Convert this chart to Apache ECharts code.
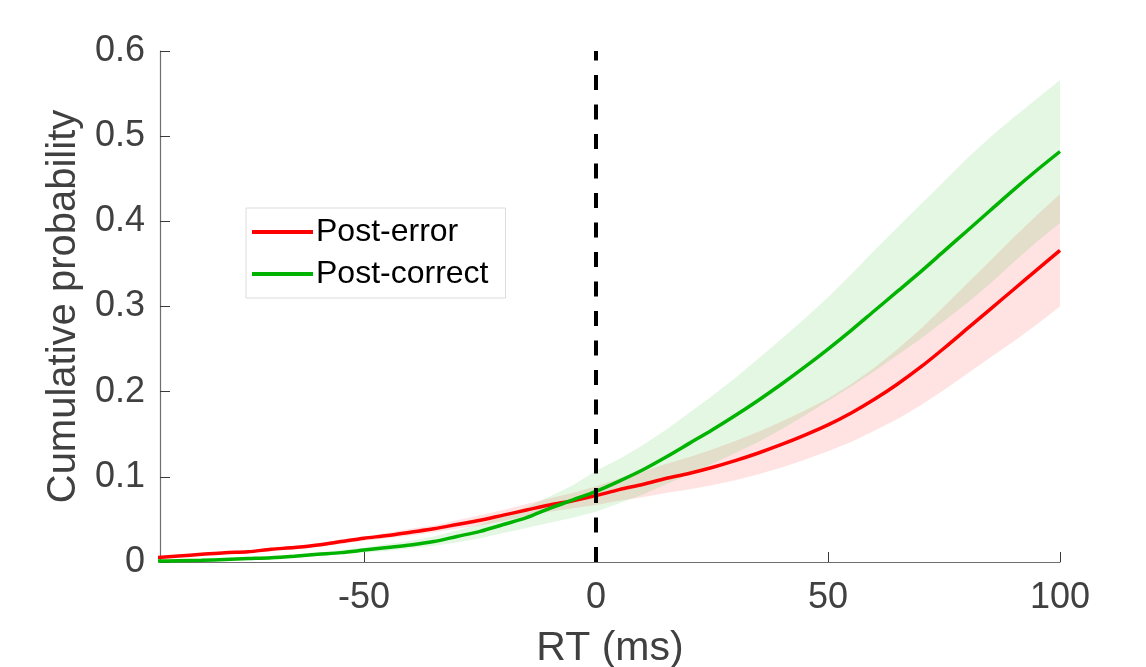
<!DOCTYPE html>
<html>
<head>
<meta charset="utf-8">
<title>Cumulative probability</title>
<script src="https://cdn.jsdelivr.net/npm/echarts@6/dist/echarts.min.js"></script>
<style>
  html, body { margin: 0; padding: 0; background: #fff; }
  #chart { width: 1146px; height: 667px; }
</style>
</head>
<body>
<div id="chart"></div>
<script>
// RT grid (ms)
var rt = [-95, -90, -85, -80, -75, -70, -65, -60, -55, -50, -45, -40, -35, -30, -25, -20, -15, -10, -5, 0,
  5, 10, 15, 20, 25, 30, 35, 40, 45, 50, 55, 60, 65, 70, 75, 80, 85, 90, 95, 100];

var postErrorMean = [0.005, 0.007, 0.009, 0.011, 0.012, 0.015, 0.017, 0.020, 0.024, 0.028, 0.031, 0.035, 0.039, 0.044, 0.049, 0.055, 0.061, 0.067, 0.072, 0.078,
  0.085, 0.091, 0.098, 0.104, 0.111, 0.119, 0.128, 0.138, 0.149, 0.161, 0.175, 0.191, 0.209, 0.229, 0.251, 0.274, 0.297, 0.320, 0.343, 0.366];
var postErrorUpper = [0.006, 0.008, 0.010, 0.012, 0.014, 0.017, 0.019, 0.022, 0.026, 0.030, 0.034, 0.039, 0.043, 0.049, 0.055, 0.061, 0.068, 0.075, 0.081, 0.089,
  0.098, 0.106, 0.115, 0.123, 0.132, 0.142, 0.153, 0.165, 0.178, 0.192, 0.209, 0.228, 0.250, 0.274, 0.300, 0.327, 0.354, 0.381, 0.407, 0.432];
var postErrorLower = [0.004, 0.006, 0.008, 0.010, 0.011, 0.013, 0.015, 0.018, 0.021, 0.025, 0.028, 0.031, 0.035, 0.039, 0.043, 0.048, 0.054, 0.059, 0.063, 0.067,
  0.072, 0.076, 0.081, 0.085, 0.090, 0.096, 0.103, 0.111, 0.120, 0.130, 0.141, 0.154, 0.168, 0.184, 0.202, 0.221, 0.240, 0.259, 0.279, 0.300];

var postCorrectMean = [0.001, 0.0015, 0.002, 0.003, 0.004, 0.005, 0.0068, 0.009, 0.011, 0.014, 0.017, 0.020, 0.024, 0.030, 0.036, 0.044, 0.052, 0.063, 0.073, 0.083,
  0.095, 0.108, 0.123, 0.139, 0.155, 0.172, 0.190, 0.209, 0.229, 0.250, 0.272, 0.295, 0.318, 0.341, 0.365, 0.389, 0.413, 0.437, 0.460, 0.482];
var postCorrectUpper = [0.002, 0.002, 0.003, 0.004, 0.005, 0.007, 0.009, 0.011, 0.014, 0.017, 0.021, 0.025, 0.030, 0.037, 0.044, 0.054, 0.064, 0.077, 0.090, 0.107,
  0.121, 0.137, 0.155, 0.175, 0.195, 0.216, 0.239, 0.262, 0.286, 0.311, 0.338, 0.366, 0.393, 0.420, 0.447, 0.474, 0.499, 0.522, 0.544, 0.566];
var postCorrectLower = [0.0005, 0.001, 0.0015, 0.002, 0.003, 0.004, 0.005, 0.007, 0.009, 0.011, 0.013, 0.016, 0.019, 0.023, 0.028, 0.034, 0.040, 0.046, 0.052, 0.059,
  0.069, 0.079, 0.091, 0.103, 0.115, 0.128, 0.141, 0.156, 0.172, 0.189, 0.206, 0.224, 0.243, 0.262, 0.283, 0.304, 0.327, 0.352, 0.376, 0.398];

var xTicks = [-50, 0, 50, 100];
var seriesNames = ['Post-error', 'Post-correct'];

var RED = '#ff0000';
var GREEN = '#00b300';
var FONT = '"Liberation Sans", Arial, Helvetica, sans-serif';

function pairs(ys) {
  return rt.map(function(x, i) { return [x, ys[i]]; });
}

// shaded band: one polygon, upper edge forward then lower edge back
function band(upper, lower, color) {
  return {
    type: 'custom', silent: true, z: 1, clip: true,
    data: rt.map(function(x, i) { return [x, lower[i], upper[i]]; }),
    encode: { x: 0, y: [1, 2] },
    renderItem: function(params, api) {
      if (params.dataIndex !== 0) return;
      var pts = [];
      for (var i = 0; i < rt.length; i++) pts.push(api.coord([rt[i], upper[i]]));
      for (var j = rt.length - 1; j >= 0; j--) pts.push(api.coord([rt[j], lower[j]]));
      return {
        type: 'polygon',
        shape: { points: pts },
        style: { fill: color, opacity: 0.11 }
      };
    }
  };
}

var chart = echarts.init(document.getElementById('chart'), null, { renderer: 'canvas' });

var series = [
  band(postErrorUpper, postErrorLower, RED),
  band(postCorrectUpper, postCorrectLower, GREEN),
  {
    name: seriesNames[0], type: 'line', data: pairs(postErrorMean), symbol: 'none', smooth: 0.3,
    lineStyle: { color: RED, width: 3.5 }, itemStyle: { color: RED }, z: 3
  },
  {
    name: seriesNames[1], type: 'line', data: pairs(postCorrectMean), symbol: 'none', smooth: 0.3,
    lineStyle: { color: GREEN, width: 3.5 }, itemStyle: { color: GREEN }, z: 3,
    markLine: {
      silent: true, symbol: 'none', z: 5,
      label: { show: false },
      lineStyle: { color: '#000', width: 4, type: [15, 14.5] },
      data: [{ xAxis: 0 }]
    }
  }
];

chart.setOption({
  animation: false,
  backgroundColor: '#fff',
  // keep the plot box fixed, the x name is allowed to run off the bottom
  grid: { left: 160, right: 86, top: 51, bottom: 105, outerBoundsMode: 'none', containLabel: false },
  legend: {
    data: seriesNames,
    icon: 'rect',
    orient: 'vertical',
    left: 246, top: 208,
    padding: [8, 17, 8, 6],
    itemGap: 10,
    itemWidth: 61, itemHeight: 4,
    borderColor: '#dcdcdc', borderWidth: 1,
    backgroundColor: '#fff',
    textStyle: { fontFamily: FONT, fontSize: 32, color: '#000', padding: [0, 0, 0, -2] }
  },
  xAxis: {
    type: 'value', min: -94, max: 100,
    name: 'RT (ms)', nameLocation: 'middle', nameGap: 66,
    nameTextStyle: { fontFamily: FONT, fontSize: 41, color: '#404040' },
    axisLine: { onZero: false, lineStyle: { color: '#6e6e6e', width: 1.2 } },
    axisTick: { inside: true, length: 10, customValues: xTicks, lineStyle: { color: '#3a3a3a' } },
    axisLabel: { customValues: xTicks, fontFamily: FONT, fontSize: 36, color: '#404040', margin: 18 },
    splitLine: { show: false }
  },
  yAxis: {
    type: 'value', min: 0, max: 0.6, interval: 0.1,
    name: 'Cumulative probability', nameLocation: 'middle', nameGap: 71,
    nameTextStyle: { fontFamily: FONT, fontSize: 40, color: '#404040' },
    axisLine: { show: true, onZero: false, lineStyle: { color: '#6e6e6e', width: 1.2 } },
    axisTick: { show: true, inside: true, length: 10, lineStyle: { color: '#3a3a3a' } },
    axisLabel: { fontFamily: FONT, fontSize: 36, color: '#404040', margin: 15 },
    splitLine: { show: false }
  },
  series: series
});
</script>
</body>
</html>
